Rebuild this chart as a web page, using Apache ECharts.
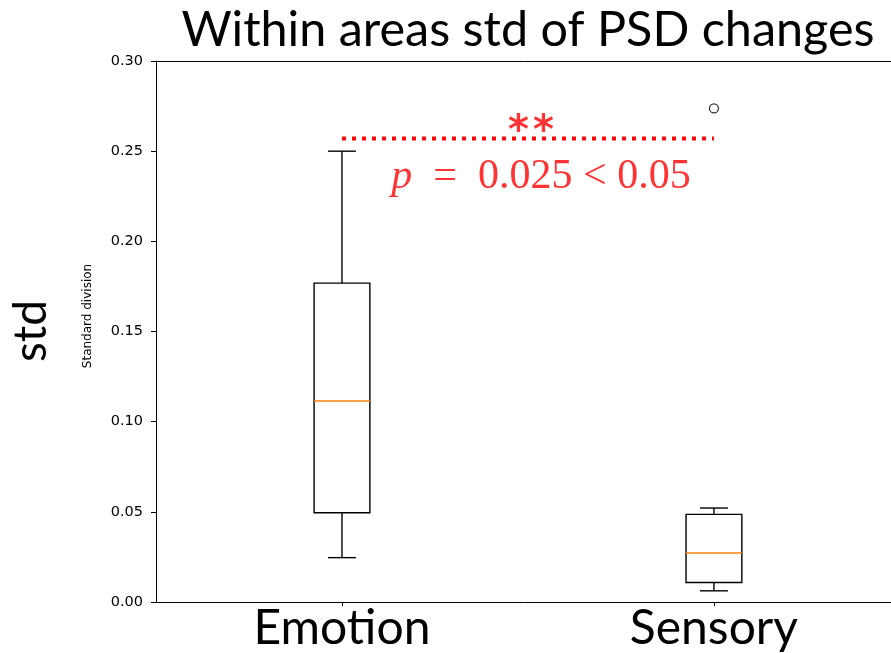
<!DOCTYPE html>
<html>
<head>
<meta charset="utf-8">
<script src="https://cdn.jsdelivr.net/npm/echarts@6/dist/echarts.min.js"></script>
<style>
  html, body { margin: 0; padding: 0; background: #fff; }
  #chart { width: 891px; height: 653px; }
</style>
</head>
<body>
<div id="chart"></div>
<script>
// Box statistics per area group
const categories   = ['Emotion', 'Sensory'];
const positions    = [1, 2];
const lowerWhisker = [0.0246, 0.0062];
const q1           = [0.0495, 0.0108];
const median       = [0.1115, 0.0272];
const q3           = [0.1768, 0.0486];
const upperWhisker = [0.2500, 0.0521];
// Fliers: [position, value]
const outliers     = [[2, 0.2737]];

// Significance bracket between the two groups
const bracketLevel = 0.257;
const starsLevel   = 0.2603;
const starsPos     = 1.508;
const pTextLevel   = 0.2355;
const pTextPos     = 1.535;

const boxData = categories.map((c, i) =>
  [positions[i], lowerWhisker[i], q1[i], median[i], q3[i], upperWhisker[i]]);

const chart = echarts.init(document.getElementById('chart'));

// Box, whiskers, half-width caps and median line for one group
function renderBox(params, api) {
  const p = api.value(0);
  const lo = api.coord([p, api.value(1)]);
  const b1 = api.coord([p, api.value(2)]);
  const md = api.coord([p, api.value(3)]);
  const b3 = api.coord([p, api.value(4)]);
  const hi = api.coord([p, api.value(5)]);
  const unit = api.size([1, 0])[0];
  const bw = unit * 0.15;
  const cw = bw / 2;
  const x = lo[0];
  const black = { stroke: '#000', lineWidth: 1.4, fill: null };
  return {
    type: 'group',
    children: [
      { type: 'line', shape: { x1: x, y1: b1[1], x2: x, y2: lo[1] }, style: black },
      { type: 'line', shape: { x1: x, y1: b3[1], x2: x, y2: hi[1] }, style: black },
      { type: 'line', shape: { x1: x - cw / 2, y1: lo[1], x2: x + cw / 2, y2: lo[1] }, style: black },
      { type: 'line', shape: { x1: x - cw / 2, y1: hi[1], x2: x + cw / 2, y2: hi[1] }, style: black },
      { type: 'rect', shape: { x: x - bw / 2, y: b3[1], width: bw, height: b1[1] - b3[1] },
        style: { stroke: '#000', lineWidth: 1.4, fill: 'rgba(0,0,0,0)' } },
      { type: 'line', shape: { x1: x - bw / 2, y1: md[1], x2: x + bw / 2, y2: md[1] },
        style: { stroke: '#ff7f0e', lineWidth: 1.4 } }
    ]
  };
}

const red = '#ff0000';

chart.setOption({
  animation: false,
  backgroundColor: '#fff',
  grid: { left: 156, top: 61, right: 0, bottom: 50 },
  graphic: [
    { type: 'text', x: 528, y: 30,
      style: { text: 'Within areas std of PSD changes',
        font: '48.5px Lato', fill: '#000', textAlign: 'center', textVerticalAlign: 'middle' } },
    { type: 'text', x: 31, y: 331, rotation: Math.PI / 2,
      style: { text: 'std', font: '46px Lato', fill: '#000',
        textAlign: 'center', textVerticalAlign: 'middle' } },
    { type: 'text', x: 88, y: 316, rotation: Math.PI / 2,
      style: { text: 'Standard division', font: '12px "DejaVu Sans"', fill: '#000',
        textAlign: 'center', textVerticalAlign: 'middle' } }
  ],
  xAxis: [
    {
      type: 'value', min: 0.5, max: 2.476, position: 'bottom',
      axisLine: { show: true, onZero: false, lineStyle: { color: '#000', width: 1 } },
      axisTick: { show: true, length: 4, customValues: positions, lineStyle: { color: '#000' } },
      axisLabel: { color: '#000', fontFamily: 'Lato', fontSize: 48, margin: 3,
        customValues: positions,
        formatter: v => categories[positions.indexOf(v)] || '' },
      splitLine: { show: false }
    },
    {
      // top spine
      type: 'value', min: 0.5, max: 2.476, position: 'top',
      axisLine: { show: true, onZero: false, lineStyle: { color: '#000', width: 1 } },
      axisTick: { show: false }, axisLabel: { show: false }, splitLine: { show: false }
    }
  ],
  yAxis: {
    type: 'value', min: 0, max: 0.3, interval: 0.05,
    axisLine: { show: true, lineStyle: { color: '#000', width: 1 } },
    axisTick: { show: true, length: 5, lineStyle: { color: '#000' } },
    axisLabel: { color: '#000', fontFamily: 'DejaVu Sans', fontSize: 14.5, margin: 13,
      formatter: v => v.toFixed(2) },
    splitLine: { show: false }
  },
  series: [
    { type: 'custom', renderItem: renderBox, data: boxData,
      encode: { x: 0, y: [1, 2, 3, 4, 5] }, z: 3 },
    { type: 'scatter', data: outliers, symbol: 'circle', symbolSize: 9,
      itemStyle: { color: 'rgba(0,0,0,0)', borderColor: '#000', borderWidth: 1.3 }, z: 4 },
    { type: 'line', data: [[positions[0], bracketLevel], [positions[1], bracketLevel]],
      symbol: 'none', silent: true,
      lineStyle: { color: red, width: 4, type: [4, 6], cap: 'butt' } },
    { type: 'scatter', symbolSize: 0, silent: true,
      data: [
        { value: [starsPos, starsLevel],
          label: { show: true, position: 'inside', formatter: '{a|*}{a|*}',
            rich: { a: { fontFamily: '"DejaVu Sans"', fontWeight: 'bold', fontSize: 40,
              color: red, padding: [0, 2] } } } },
        { value: [pTextPos, pTextLevel],
          label: { show: true, position: 'inside', formatter: '{i|p}{n|  =  0.025 < 0.05}',
            rich: {
              i: { fontFamily: '"Liberation Serif"', fontStyle: 'italic', fontSize: 42, color: red },
              n: { fontFamily: '"Liberation Serif"', fontSize: 42, color: red }
            } } }
      ] }
  ]
});
</script>
</body>
</html>
